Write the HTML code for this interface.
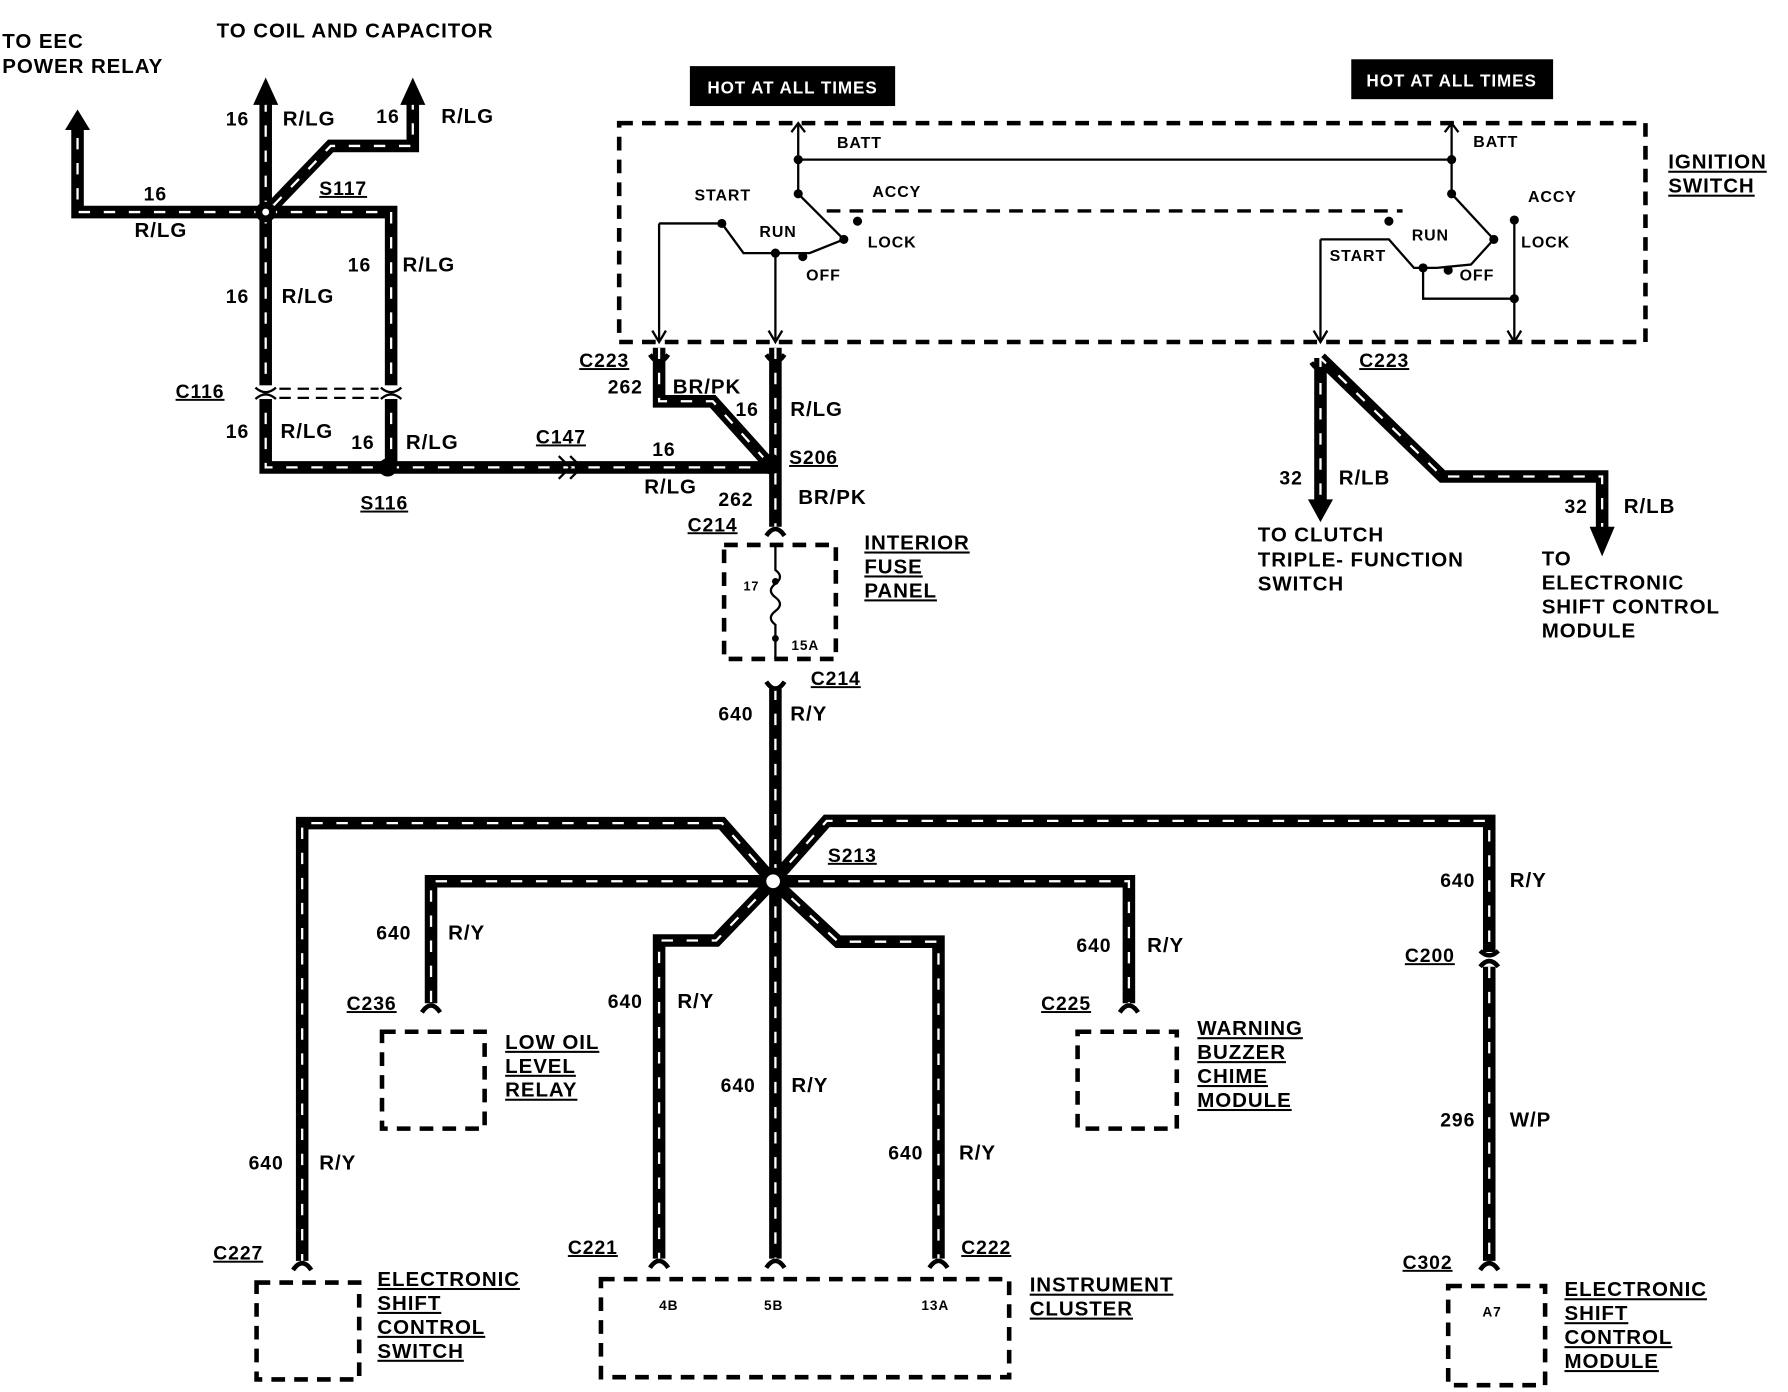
<!DOCTYPE html>
<html><head><meta charset="utf-8"><style>
html,body{margin:0;padding:0;background:#fff;}
svg{display:block}
text{font-family:"Liberation Sans",sans-serif;font-weight:bold;fill:#000;letter-spacing:0.8px}
.w{fill:none;stroke:#000;stroke-width:11;stroke-linejoin:miter}
.d{fill:none;stroke:#fff;stroke-width:2;stroke-dasharray:10 12}
.t{fill:none;stroke:#000;stroke-width:2}
.b{fill:none;stroke:#000;stroke-width:4;stroke-dasharray:12 8}
.y{fill:none;stroke:#000;stroke-width:4}
</style></head><body>
<svg width="1788" height="1392" viewBox="0 0 1568 1221" preserveAspectRatio="none" xmlns="http://www.w3.org/2000/svg">
<g id="wires">
<g class="w">
<path d="M233,186 V90"/><path d="M233,186 H68 V112"/><path d="M240,180 L290,128 H362 V90"/>
<path d="M233,186 H343 V410"/><path d="M233,186 V410 H340"/><path d="M340,410 H676"/>
<path d="M680,305 V462"/><path d="M578,305 V352 H625 L670,402"/>
<path d="M680,604 V773"/>
<path d="M678,773 L633,722 H265 V1106"/><path d="M678,773 H378 V880"/><path d="M678,773 L628,825 H578 V1104"/>
<path d="M680,773 V1104"/><path d="M678,773 L735,826 H823 V1104"/><path d="M678,773 H990 V880"/>
<path d="M678,773 L725,720 H1306 V835"/><path d="M1306,848 V1106"/>
<path d="M1158,314 V440"/><path d="M1158,314 L1265,418 H1405 V465"/>
</g>
<g class="d">
<path d="M233,186 V90"/><path d="M233,186 H68 V112"/><path d="M240,180 L290,128 H362 V90"/>
<path d="M233,186 H343 V410"/><path d="M233,186 V410 H340"/><path d="M340,410 H676"/>
<path d="M680,305 V462"/><path d="M578,305 V352 H625 L670,402"/>
<path d="M680,604 V773"/>
<path d="M678,773 L633,722 H265 V1106"/><path d="M678,773 H378 V880"/><path d="M678,773 L628,825 H578 V1104"/>
<path d="M680,773 V1104"/><path d="M678,773 L735,826 H823 V1104"/><path d="M678,773 H990 V880"/>
<path d="M678,773 L725,720 H1306 V835"/><path d="M1306,848 V1106"/>
<path d="M1158,314 V440"/><path d="M1158,314 L1265,418 H1405 V465"/>
</g>
<!-- connector forks -->
<g class="y">
<path d="M257,1114 q8,-12 16,0"/><path d="M370,888 q8,-12 16,0"/><path d="M982,888 q8,-12 16,0"/>
<path d="M570,1112 q8,-12 16,0"/><path d="M672,1112 q8,-12 16,0"/><path d="M815,1112 q8,-12 16,0"/>
<path d="M1298,1114 q8,-12 16,0"/><path d="M672,470 q8,-12 16,0"/>
<path d="M1298,834 q8,8 16,0 M1298,848 q8,-10 16,0"/>
<path d="M672,598 q8,12 16,0"/><path d="M570,311 q8,12 16,0"/><path d="M672,311 q8,12 16,0"/><path d="M1150,318 q8,12 16,0"/>
</g>
<path d="M222,92 L233,68 L244,92Z M57,114 L68,96 L79,114Z M351,92 L362,68 L373,92Z M1147,438 L1158,458 L1169,438Z M1394,462 L1405,488 L1416,462Z"/>
<circle cx="233" cy="186" r="9" fill="#000"/><circle cx="233" cy="186" r="3" fill="#fff"/>
<circle cx="340" cy="410" r="8" fill="#000"/>
<circle cx="676" cy="407" r="9" fill="#000"/>
<circle cx="678" cy="773" r="12" fill="#000"/><circle cx="678" cy="773" r="6" fill="#fff"/>
<rect x="222" y="338" width="130" height="12" fill="#fff"/>
<path class="t" d="M224,340 q9,8 18,0 M334,340 q9,8 18,0 M224,350 q9,-8 18,0 M334,350 q9,-8 18,0" stroke-width="3"/>
<path class="t" stroke-dasharray="10 6" stroke-width="3" d="M245,341 H332 M245,349 H332"/>
<path class="t" d="M490,400 l10,10 l-10,10 M500,400 l10,10 l-10,10" stroke-width="3"/>
</g>
<rect x="605" y="58" width="180" height="35" fill="#000"/><text x="695" y="82" font-size="15" text-anchor="middle" style="fill:#fff">HOT AT ALL TIMES</text>
<rect x="1185" y="52" width="177" height="35" fill="#000"/><text x="1273" y="76" font-size="15" text-anchor="middle" style="fill:#fff">HOT AT ALL TIMES</text>
<rect x="543" y="108" width="900" height="192" class="b"/>
<g class="t">
<path d="M700,108 V170 M1273,108 V170 M700,140 H1273"/>
<path d="M700,170 L740,210 M1273,170 L1310,210"/>
<path d="M725,185 H1230" stroke-dasharray="12 8" stroke-width="3"/>
<path d="M578,196 H633 M633,196 L652,222 L680,222 L710,222 L740,210"/>
<path d="M680,222 V298 M578,196 V298"/>
<path d="M1158,210 H1218 L1240,235 L1260,235 L1290,232 L1310,210"/>
<path d="M1158,210 V298 M1248,235 V262 H1328 M1328,190 V298"/>
<path d="M572,290 L578,300 L584,290 M674,290 L680,300 L686,290 M1152,290 L1158,300 L1164,290 M1322,290 L1328,300 L1334,290 M694,116 L700,108 L706,116 M1267,116 L1273,108 L1279,116"/>
</g>
<g fill="#000"><circle cx="700" cy="140" r="4"/><circle cx="1273" cy="140" r="4"/><circle cx="700" cy="170" r="4"/><circle cx="1273" cy="170" r="4"/><circle cx="633" cy="196" r="4"/><circle cx="680" cy="222" r="4"/><circle cx="704" cy="225" r="4"/><circle cx="740" cy="210" r="4"/><circle cx="752" cy="194" r="4"/><circle cx="1218" cy="194" r="4"/><circle cx="1248" cy="235" r="4"/><circle cx="1270" cy="237" r="4"/><circle cx="1310" cy="210" r="4"/><circle cx="1328" cy="193" r="4"/><circle cx="1328" cy="262" r="4"/></g>
<g font-size="14">
<text x="734" y="130">BATT</text><text x="1292" y="129">BATT</text>
<text x="609" y="176">START</text><text x="765" y="173">ACCY</text><text x="1340" y="177">ACCY</text>
<text x="666" y="208">RUN</text><text x="761" y="217">LOCK</text><text x="707" y="246">OFF</text>
<text x="1166" y="229">START</text><text x="1238" y="211">RUN</text><text x="1334" y="217">LOCK</text><text x="1280" y="246">OFF</text>
</g>
<rect x="635" y="478" width="98" height="100" class="b"/>
<path class="t" d="M680,478 V500 q8,6 0,12 q-8,6 0,12 q8,6 0,12 q-8,6 0,12 V578" stroke-width="2"/>
<circle cx="680" cy="510" r="3"/><circle cx="680" cy="560" r="3"/>
<text x="652" y="518" font-size="11">17</text><text x="694" y="570" font-size="12">15A</text>
<rect x="335" y="905" width="90" height="85" class="b"/>
<rect x="945" y="905" width="87" height="85" class="b"/>
<rect x="225" y="1125" width="90" height="85" class="b"/>
<rect x="527" y="1122" width="358" height="86" class="b"/>
<rect x="1270" y="1128" width="85" height="87" class="b"/>
<g font-size="12"><text x="578" y="1149">4B</text><text x="670" y="1149">5B</text><text x="808" y="1149">13A</text><text x="1300" y="1155">A7</text></g>
<g font-size="18">
<text x="2" y="42">TO EEC</text><text x="2" y="64">POWER RELAY</text>
<text x="190" y="33">TO COIL AND CAPACITOR</text>
<text x="1463" y="148" text-decoration="underline">IGNITION</text><text x="1463" y="169" text-decoration="underline">SWITCH</text>
<text x="758" y="482" text-decoration="underline">INTERIOR</text><text x="758" y="503" text-decoration="underline">FUSE</text><text x="758" y="524" text-decoration="underline">PANEL</text>
<text x="1103" y="475">TO CLUTCH</text><text x="1103" y="497">TRIPLE- FUNCTION</text><text x="1103" y="518">SWITCH</text>
<text x="1352" y="496">TO</text><text x="1352" y="517">ELECTRONIC</text><text x="1352" y="538">SHIFT CONTROL</text><text x="1352" y="559">MODULE</text>
<g text-decoration="underline">
<text x="443" y="920">LOW OIL</text><text x="443" y="941">LEVEL</text><text x="443" y="962">RELAY</text>
<text x="1050" y="908">WARNING</text><text x="1050" y="929">BUZZER</text><text x="1050" y="950">CHIME</text><text x="1050" y="971">MODULE</text>
<text x="331" y="1128">ELECTRONIC</text><text x="331" y="1149">SHIFT</text><text x="331" y="1170">CONTROL</text><text x="331" y="1191">SWITCH</text>
<text x="903" y="1133">INSTRUMENT</text><text x="903" y="1154">CLUSTER</text>
<text x="1372" y="1137">ELECTRONIC</text><text x="1372" y="1158">SHIFT</text><text x="1372" y="1179">CONTROL</text><text x="1372" y="1200">MODULE</text>
</g>
<text x="248" y="110">R/LG</text><text x="387" y="108">R/LG</text><text x="118" y="208">R/LG</text>
<text x="353" y="238">R/LG</text><text x="247" y="266">R/LG</text><text x="246" y="384">R/LG</text><text x="356" y="394">R/LG</text>
<text x="565" y="433">R/LG</text><text x="590" y="345">BR/PK</text><text x="693" y="365">R/LG</text><text x="700" y="442">BR/PK</text>
<text x="693" y="632">R/Y</text><text x="1174" y="425">R/LB</text><text x="1424" y="450">R/LB</text>
<text x="1324" y="778">R/Y</text><text x="393" y="824">R/Y</text><text x="1006" y="835">R/Y</text>
<text x="594" y="884">R/Y</text><text x="694" y="958">R/Y</text><text x="841" y="1017">R/Y</text><text x="280" y="1026">R/Y</text><text x="1324" y="988">W/P</text>
</g>
<g font-size="17">
<text x="198" y="110">16</text><text x="330" y="108">16</text><text x="126" y="176">16</text><text x="305" y="238">16</text><text x="198" y="266">16</text>
<text x="198" y="384">16</text><text x="308" y="394">16</text><text x="572" y="400">16</text><text x="645" y="365">16</text>
<text x="533" y="345">262</text><text x="630" y="444">262</text><text x="630" y="632">640</text>
<text x="1122" y="425">32</text><text x="1372" y="450">32</text><text x="1263" y="778">640</text>
<text x="330" y="824">640</text><text x="944" y="835">640</text><text x="533" y="884">640</text><text x="632" y="958">640</text><text x="779" y="1017">640</text><text x="218" y="1026">640</text><text x="1263" y="988">296</text>
<g text-decoration="underline">
<text x="280" y="171">S117</text><text x="154" y="349">C116</text><text x="316" y="447">S116</text><text x="470" y="389">C147</text>
<text x="508" y="322">C223</text><text x="1192" y="322">C223</text><text x="692" y="407">S206</text><text x="603" y="466">C214</text><text x="711" y="601">C214</text>
<text x="726" y="756">S213</text><text x="1232" y="844">C200</text><text x="304" y="886">C236</text><text x="913" y="886">C225</text>
<text x="187" y="1105">C227</text><text x="498" y="1100">C221</text><text x="843" y="1100">C222</text><text x="1230" y="1113">C302</text>
</g>
</g>
</svg>
</body></html>
